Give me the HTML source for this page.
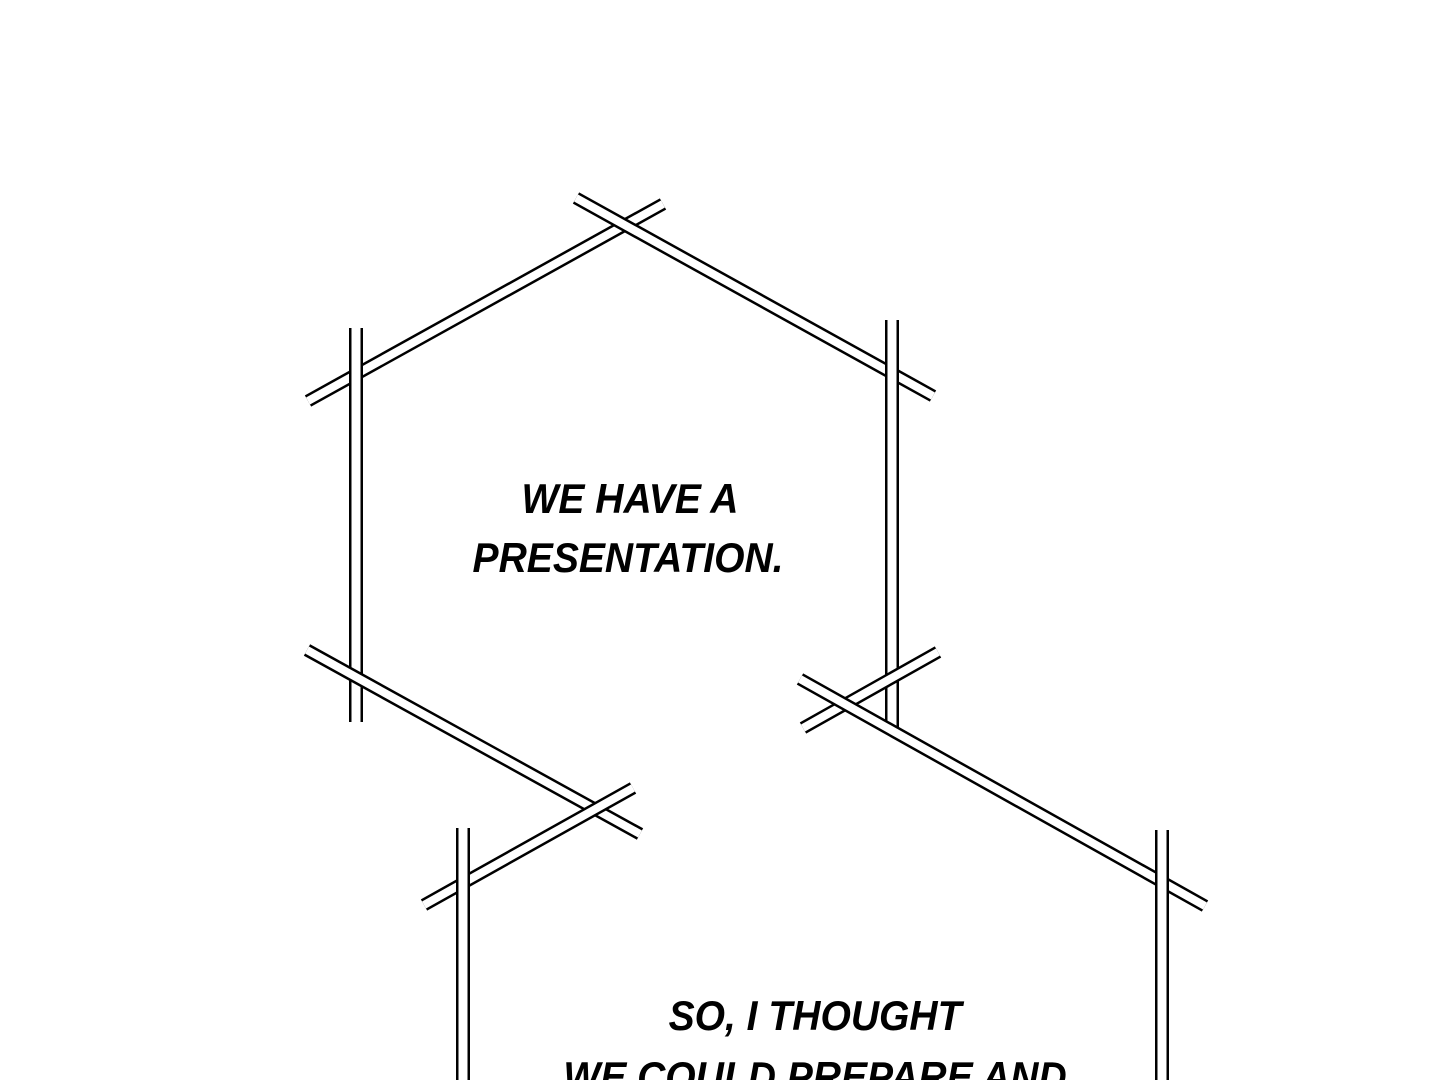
<!DOCTYPE html>
<html><head><meta charset="utf-8"><style>
html,body{margin:0;padding:0;background:#fff;}
svg{display:block}
text{font-family:"Liberation Sans",sans-serif;font-weight:bold;font-style:italic;font-size:42px;fill:#000;}
</style></head><body>
<svg width="1440" height="1080" viewBox="0 0 1440 1080" xmlns="http://www.w3.org/2000/svg">
<g>
<line x1="663" y1="204" x2="308" y2="401" stroke="#000" stroke-width="13"/><line x1="663" y1="204" x2="308" y2="401" stroke="#fff" stroke-width="8"/>
<line x1="576" y1="198" x2="933" y2="396" stroke="#000" stroke-width="13"/><line x1="576" y1="198" x2="933" y2="396" stroke="#fff" stroke-width="8"/>
<line x1="356" y1="328" x2="356" y2="722" stroke="#000" stroke-width="14"/><line x1="356" y1="328" x2="356" y2="722" stroke="#fff" stroke-width="9"/>
<line x1="892" y1="320" x2="892" y2="727" stroke="#000" stroke-width="14"/><line x1="892" y1="320" x2="892" y2="727" stroke="#fff" stroke-width="9"/>
<line x1="307" y1="650" x2="640" y2="834" stroke="#000" stroke-width="13"/><line x1="307" y1="650" x2="640" y2="834" stroke="#fff" stroke-width="8"/>
<line x1="938" y1="652" x2="803" y2="728" stroke="#000" stroke-width="13"/><line x1="938" y1="652" x2="803" y2="728" stroke="#fff" stroke-width="8"/>
<line x1="800" y1="679" x2="1205" y2="906" stroke="#000" stroke-width="13"/><line x1="800" y1="679" x2="1205" y2="906" stroke="#fff" stroke-width="8"/>
<line x1="633" y1="788" x2="424" y2="905" stroke="#000" stroke-width="13"/><line x1="633" y1="788" x2="424" y2="905" stroke="#fff" stroke-width="8"/>
<line x1="463" y1="828" x2="463" y2="1085" stroke="#000" stroke-width="14"/><line x1="463" y1="828" x2="463" y2="1085" stroke="#fff" stroke-width="9"/>
<line x1="1162" y1="830" x2="1162" y2="1085" stroke="#000" stroke-width="14"/><line x1="1162" y1="830" x2="1162" y2="1085" stroke="#fff" stroke-width="9"/>
</g>
<g text-anchor="middle">
<text transform="translate(630,513) scale(0.93,1)">WE HAVE A</text>
<text transform="translate(628,572) scale(0.93,1)">PRESENTATION.</text>
<text transform="translate(815,1030) scale(0.93,1)">SO, I THOUGHT</text>
<text transform="translate(815,1091) scale(0.93,1)">WE COULD PREPARE AND</text>
</g>
</svg>
</body></html>
